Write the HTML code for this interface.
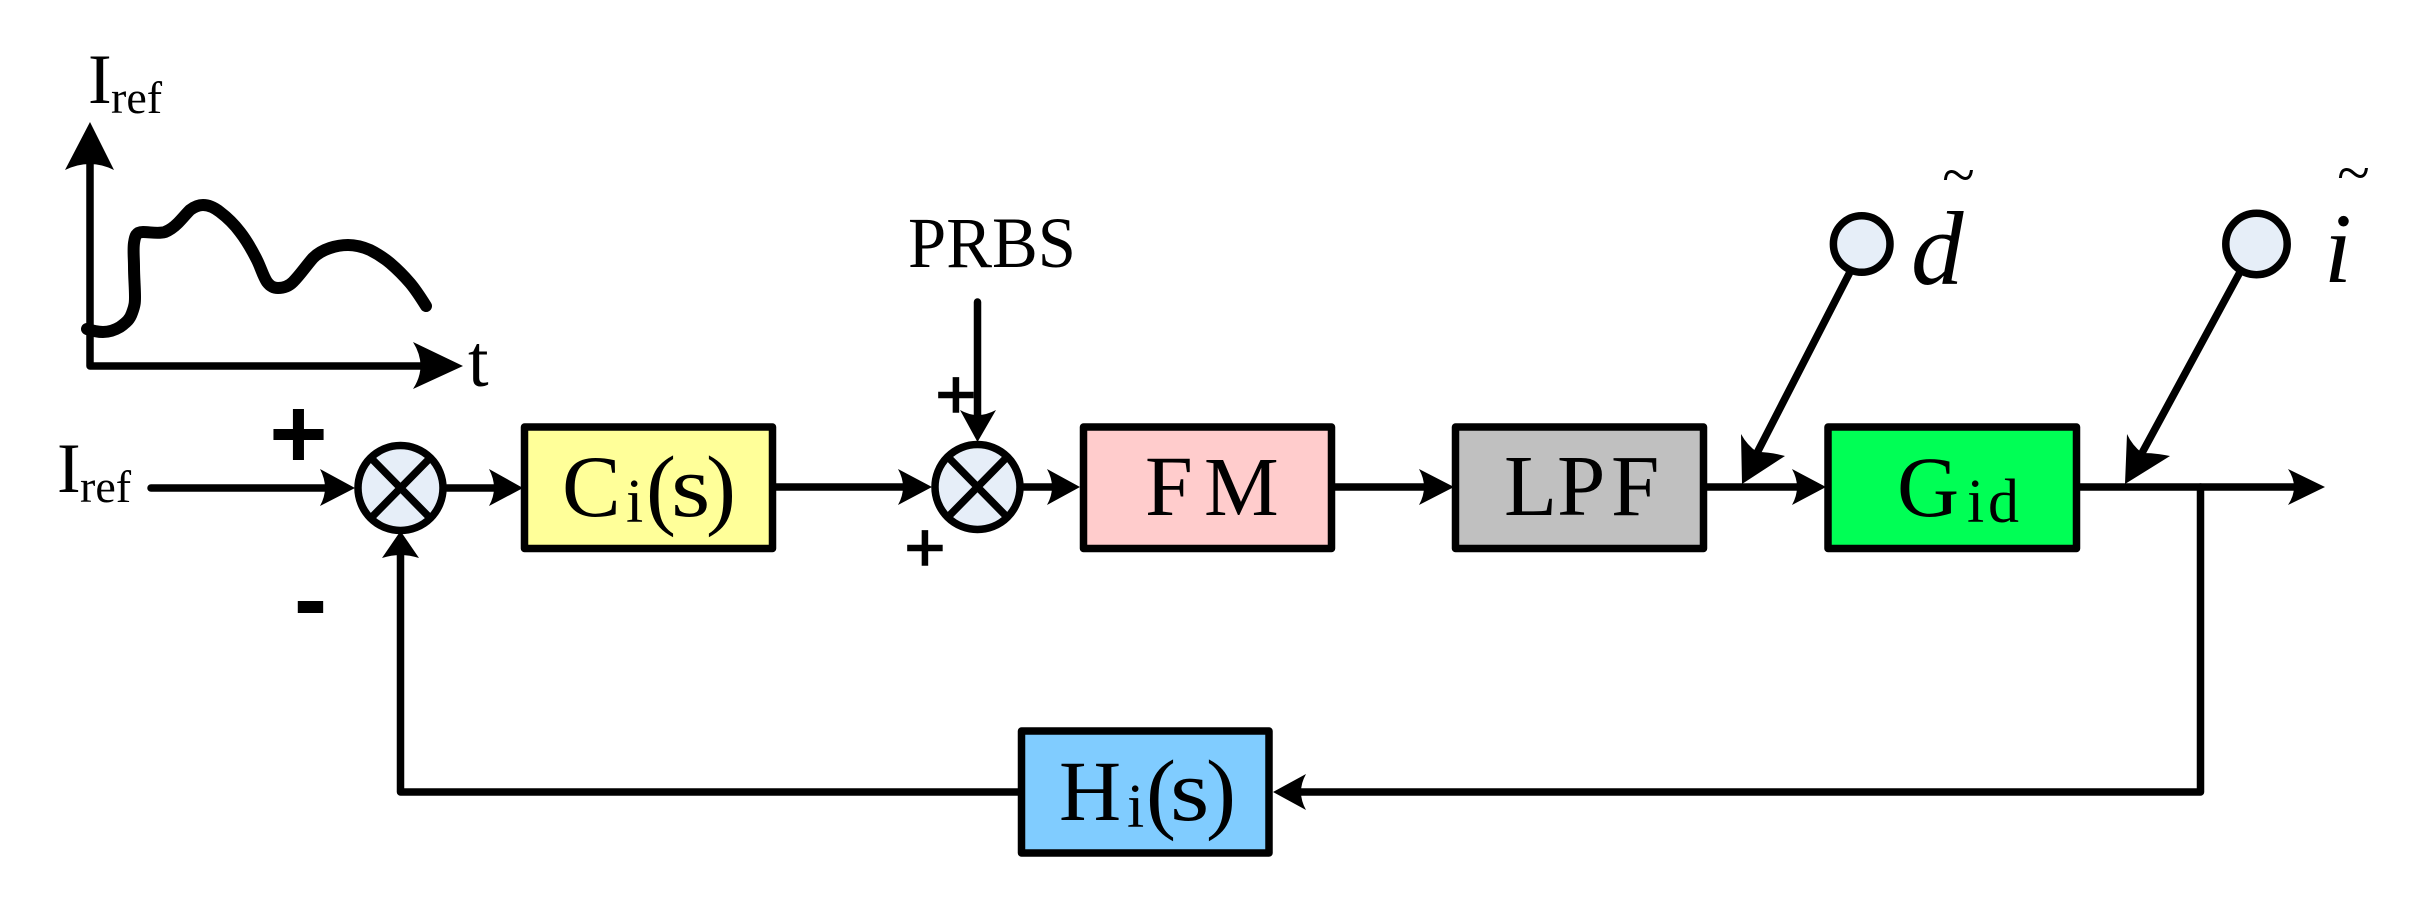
<!DOCTYPE html>
<html>
<head>
<meta charset="utf-8">
<style>
html,body{margin:0;padding:0;background:#fff;width:2421px;height:909px;overflow:hidden}
svg{display:block}
text{font-family:"Liberation Serif",serif;fill:#000}
.sans{font-family:"Liberation Sans",sans-serif}
</style>
</head>
<body>
<svg width="2421" height="909" viewBox="0 0 2421 909" xmlns="http://www.w3.org/2000/svg">
<rect width="2421" height="909" fill="#fff"/>

<!-- small chart -->
<g fill="none" stroke="#000" stroke-width="7.5" stroke-linejoin="round" stroke-linecap="round">
  <path d="M90 160 V366 H425"/>
</g>
<path d="M90 122 L114 170 Q90 158 65 170 Z"/>
<path d="M463 366 L413 342 Q428 366 413 389 Z"/>
<path d="M87 329 C93 331 98 332 103 332 C110 332 115 330 120 327 C127 322 130 319 132 313 C135 305 135 302 135 297 C135 287 134 277 134 267 C134 258 133 250 134 243 C135 236 136 232 143 232 C150 232 158 234 165 232 C170 230 174 227 178 223 C182 219 186 214 190 210 C194 207 198 205 203 205 C209 205 215 208 220 212 C228 218 234 224 240 232 C247 241 252 250 257 260 C261 268 263 276 267 282 C270 286 273 288 278 288 C284 288 289 286 293 282 C300 275 306 266 313 258 C318 253 324 250 330 248 C336 246 342 245 348 245 C356 245 363 247 370 250 C378 254 384 258 390 263 C397 269 404 276 410 283 C416 290 421 298 426 306" fill="none" stroke="#000" stroke-width="12" stroke-linecap="round" stroke-linejoin="round"/>

<text x="88" y="103" font-size="71">I</text>
<text x="111" y="113" font-size="46">ref</text>
<text x="468" y="386" font-size="74">t</text>

<!-- input -->
<text x="57" y="492" font-size="71">I</text>
<text x="80" y="502" font-size="46">ref</text>
<text x="298.5" y="468" font-size="100" font-weight="bold" text-anchor="middle" class="sans">+</text>
<text x="310.5" y="633" font-size="100" font-weight="bold" text-anchor="middle" class="sans">-</text>

<!-- main connectors -->
<g fill="none" stroke="#000" stroke-width="7.5" stroke-linecap="round" stroke-linejoin="round">
  <path d="M151 488 H330"/>
  <path d="M447 488 H500"/>
  <path d="M775 487 H910"/>
  <path d="M1024 487 H1060"/>
  <path d="M1335 487 H1430"/>
  <path d="M1707 487 H1800"/>
  <path d="M2080 487 H2300"/>
  <path d="M2200.5 487 V792 H1295"/>
  <path d="M1018 792 H400.5 V550"/>
  <path d="M977.5 302 V420"/>
  <path d="M1849.5 273 L1757 453"/>
  <path d="M2239.5 273 L2142 453"/>
</g>

<!-- arrowheads -->
<path d="M355 488 L320 469 Q330 488 320 506 Z"/>
<path d="M523 488 L489 469 Q499 488 489 506 Z"/>
<path d="M932 487 L898 469 Q908 487 898 505 Z"/>
<path d="M1080 487 L1047 469 Q1057 487 1047 505 Z"/>
<path d="M1454 487 L1419 469 Q1429 487 1419 505 Z"/>
<path d="M1826 487 L1792 469 Q1802 487 1792 505 Z"/>
<path d="M2325 487 L2288 469 Q2300 487 2288 505 Z"/>
<path d="M1273 792 L1306 774 Q1296 792 1306 810 Z"/>
<path d="M400.5 531 L419 558 Q400.5 552 382 558 Z"/>
<path d="M977.5 442 L960 410 Q977.5 420 996 410 Z"/>
<path d="M1742 484 L1741 434 Q1747 445 1757 452 Q1770 452 1785 456 Z"/>
<path d="M2125 484 L2127 434 Q2132 445 2142 453 Q2156 453 2170 456 Z"/>

<!-- summing junctions -->
<g fill="#e6eef8" stroke="#000" stroke-width="7.5">
  <circle cx="400.5" cy="488" r="42.5"/>
  <circle cx="977.5" cy="487" r="42.5"/>
  <circle cx="1861.7" cy="244" r="28.3"/>
  <circle cx="2256.5" cy="244" r="30.7"/>
</g>
<g stroke="#000" stroke-width="7.5" fill="none">
  <path d="M370 457 L431 519 M431 457 L370 519"/>
  <path d="M947 456 L1008 518 M1008 456 L947 518"/>
</g>

<text x="956" y="418" font-size="70" text-anchor="middle" class="sans" stroke="#000" stroke-width="1.5">+</text>
<text x="925" y="571" font-size="70" text-anchor="middle" class="sans" stroke="#000" stroke-width="1.5">+</text>
<text x="908" y="267" font-size="72" textLength="168" lengthAdjust="spacingAndGlyphs">PRBS</text>

<!-- boxes -->
<g stroke="#000" stroke-width="7.5" stroke-linejoin="round">
  <rect x="524.5" y="427" width="248" height="121.5" fill="#ffff99"/>
  <rect x="1083.5" y="427" width="248" height="121.5" fill="#ffcccc"/>
  <rect x="1455.5" y="427" width="248" height="121.5" fill="#c0c0c0"/>
  <rect x="1828" y="427" width="248.5" height="121.5" fill="#00ff55"/>
  <rect x="1021.5" y="731" width="247.5" height="122" fill="#80ccff"/>
</g>

<!-- box labels -->
<text x="562" y="516" font-size="88">C</text>
<text x="626" y="522" font-size="62">i</text>
<text x="646" y="518" font-size="90">(</text>
<text transform="translate(671 516) scale(1.15 1)" font-size="88">s</text>
<text x="706" y="518" font-size="90">)</text>

<text x="1145" y="515" font-size="86">F</text>
<text x="1204" y="515" font-size="84">M</text>

<text x="1504 1557 1611" y="515" font-size="87">LPF</text>

<text x="1897" y="516" font-size="86">G</text>
<text x="1967 1988" y="522" font-size="62">id</text>

<text x="1059" y="820" font-size="86">H</text>
<text x="1127" y="827" font-size="62">i</text>
<text x="1146" y="822" font-size="90">(</text>
<text transform="translate(1170 820) scale(1.15 1)" font-size="88">s</text>
<text x="1206" y="822" font-size="90">)</text>

<!-- tilde labels -->
<text x="1911" y="284" font-size="105" font-style="italic">d</text>
<text x="1958.5" y="195" font-size="60" text-anchor="middle">~</text>
<text x="2324" y="282" font-size="100" font-style="italic">i</text>
<text x="2353.5" y="193" font-size="60" text-anchor="middle">~</text>
</svg>
</body>
</html>
